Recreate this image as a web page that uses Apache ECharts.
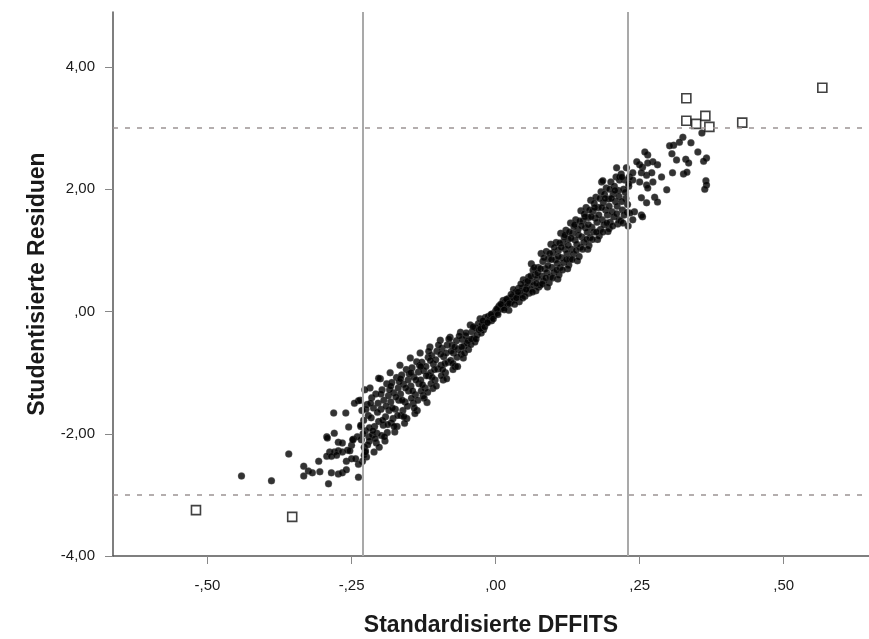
<!DOCTYPE html>
<html lang="de">
<head>
    <meta charset="UTF-8">
    <title>Studentisierte Residuen vs. DFFITS</title>
    <style>
        html,body{
            margin:0;
            padding:0;
            background:#fff;
        }
        #chartbox{
            width:869px;
            height:639px;
        }
    </style>
    <script src="https://cdn.jsdelivr.net/npm/echarts@6/dist/echarts.min.js"></script>
</head>
<body>
<div id="chartbox"></div>
<script>
    // untere Ausläufer (links unten)
    var tailLow = [
        [-0.441,-2.69],[-0.389,-2.77],[-0.359,-2.33],[-0.333,-2.53],[-0.333,-2.69],[-0.325,-2.61],
        [-0.318,-2.64],[-0.307,-2.45],[-0.290,-2.82],[-0.285,-2.64],[-0.273,-2.66],[-0.266,-2.64],
        [-0.259,-2.59],[-0.238,-2.71],[-0.238,-2.50],[-0.293,-2.05],[-0.281,-1.66],[-0.260,-1.66],
        [-0.255,-1.89],[-0.280,-1.99],[-0.273,-2.14],[-0.266,-2.15],[-0.247,-2.09],[-0.250,-2.19],
        [-0.240,-2.05],[-0.288,-2.30],[-0.280,-2.30],[-0.273,-2.28],[-0.266,-2.30],[-0.257,-2.27],
        [-0.253,-2.28],[-0.293,-2.37],[-0.285,-2.37],[-0.276,-2.35],[-0.259,-2.45],[-0.250,-2.41],
        [-0.243,-2.41],[-0.238,-1.46],[-0.245,-1.50],[-0.234,-1.86],[-0.227,-1.28],[-0.292,-2.07],
        [-0.248,-2.10],[-0.203,-1.09],[-0.226,-2.30],[-0.305,-2.62]
    ];

    // dichtes Band
    var band = [
        [-0.235,-1.45],[-0.232,-1.62],[-0.229,-1.78],[-0.226,-1.95],[-0.233,-2.10],[-0.228,-2.22],
        [-0.224,-2.38],[-0.221,-1.70],[-0.220,-2.05],[-0.231,-2.45],[-0.223,-1.52],[-0.226,-2.28],
        [-0.218,-1.25],[-0.215,-1.41],[-0.212,-1.58],[-0.216,-1.74],[-0.210,-1.88],[-0.214,-2.02],
        [-0.207,-2.15],[-0.211,-2.30],[-0.204,-1.50],[-0.203,-1.80],[-0.206,-1.99],[-0.219,-2.12],
        [-0.200,-1.10],[-0.197,-1.28],[-0.194,-1.45],[-0.199,-1.60],[-0.191,-1.72],[-0.195,-1.86],
        [-0.188,-1.98],[-0.192,-2.12],[-0.186,-1.38],[-0.185,-1.62],[-0.189,-1.18],[-0.198,-2.03],
        [-0.183,-1.00],[-0.180,-1.16],[-0.177,-1.33],[-0.182,-1.48],[-0.174,-1.60],[-0.178,-1.75],
        [-0.171,-1.88],[-0.175,-1.97],[-0.169,-1.25],[-0.168,-1.45],[-0.172,-1.08],[-0.181,-1.82],
        [-0.166,-0.88],[-0.163,-1.04],[-0.160,-1.19],[-0.165,-1.35],[-0.157,-1.48],[-0.161,-1.62],
        [-0.154,-1.75],[-0.158,-1.83],[-0.152,-1.12],[-0.151,-1.30],[-0.155,-0.95],[-0.164,-1.70],
        [-0.148,-0.76],[-0.145,-0.92],[-0.142,-1.07],[-0.147,-1.22],[-0.139,-1.36],[-0.143,-1.50],
        [-0.136,-1.62],[-0.140,-1.67],[-0.134,-0.99],[-0.133,-1.18],[-0.137,-0.82],[-0.146,-1.42],
        [-0.131,-0.68],[-0.128,-0.83],[-0.125,-0.97],[-0.130,-1.12],[-0.122,-1.25],[-0.126,-1.38],
        [-0.119,-1.49],[-0.117,-0.75],[-0.116,-1.05],[-0.121,-0.90],[-0.129,-1.30],
        [-0.114,-0.58],[-0.111,-0.72],[-0.108,-0.86],[-0.113,-1.00],[-0.105,-1.12],[-0.109,-1.26],
        [-0.102,-0.65],[-0.100,-0.94],[-0.104,-0.79],[-0.112,-1.18],
        [-0.096,-0.47],[-0.093,-0.60],[-0.090,-0.74],[-0.095,-0.88],[-0.087,-1.00],[-0.091,-1.12],
        [-0.084,-0.55],[-0.082,-0.83],[-0.086,-0.68],[-0.094,-1.05],
        [-0.079,-0.42],[-0.076,-0.55],[-0.073,-0.68],[-0.078,-0.80],[-0.070,-0.90],[-0.068,-0.48],
        [-0.065,-0.62],[-0.067,-0.75],[-0.074,-0.95],
        [-0.061,-0.34],[-0.058,-0.46],[-0.055,-0.57],[-0.060,-0.70],[-0.052,-0.40],[-0.050,-0.52],
        [-0.047,-0.62],[-0.056,-0.76],
        [-0.044,-0.22],[-0.041,-0.33],[-0.038,-0.44],[-0.043,-0.54],[-0.035,-0.27],[-0.032,-0.38],
        [-0.030,-0.20],[-0.036,-0.50],
        [-0.027,-0.12],[-0.024,-0.22],[-0.021,-0.30],[-0.018,-0.10],[-0.016,-0.19],[-0.013,-0.08],
        [-0.025,-0.35],[-0.011,-0.14],
        [-0.009,-0.10],[-0.006,-0.04],[-0.003,-0.07],[0.000,0.01],[0.003,-0.02],[0.005,0.06],
        [-0.007,-0.15],[0.006,0.09],
        [0.008,0.04],[0.011,0.10],[0.014,0.06],[0.017,0.15],[0.020,0.12],[0.022,0.21],
        [0.013,0.18],[0.023,0.02],
        [0.026,0.15],[0.029,0.24],[0.032,0.19],[0.035,0.31],[0.038,0.26],[0.040,0.38],
        [0.031,0.36],[0.041,0.16],
        [0.043,0.27],[0.046,0.38],[0.049,0.32],[0.052,0.47],[0.055,0.42],[0.057,0.56],
        [0.048,0.52],[0.058,0.30],[0.051,0.25],
        [0.060,0.36],[0.063,0.49],[0.066,0.43],[0.069,0.60],[0.072,0.55],[0.074,0.72],
        [0.065,0.68],[0.075,0.40],[0.062,0.78],[0.070,0.34],
        [0.077,0.43],[0.080,0.58],[0.083,0.50],[0.086,0.70],[0.089,0.64],[0.092,0.86],
        [0.082,0.82],[0.093,0.47],[0.079,0.95],[0.088,0.98],[0.090,0.40],
        [0.095,0.57],[0.098,0.72],[0.101,0.64],[0.104,0.85],[0.107,0.79],[0.109,1.00],
        [0.100,0.96],[0.110,0.60],[0.096,1.10],[0.105,1.13],[0.108,0.53],
        [0.112,0.72],[0.115,0.88],[0.118,0.80],[0.121,1.02],[0.124,0.95],[0.126,1.18],
        [0.117,1.13],[0.127,0.76],[0.113,1.28],[0.122,1.33],[0.125,0.70],[0.119,1.22],
        [0.129,0.86],[0.132,1.02],[0.135,0.94],[0.138,1.17],[0.141,1.10],[0.143,1.34],
        [0.134,1.28],[0.145,0.90],[0.130,1.45],[0.139,1.50],[0.142,0.83],[0.136,1.39],
        [0.147,1.05],[0.150,1.22],[0.153,1.13],[0.156,1.37],[0.159,1.30],[0.161,1.54],
        [0.152,1.48],[0.162,1.08],[0.148,1.65],[0.157,1.70],[0.160,1.02],[0.154,1.60],
        [0.164,1.21],[0.167,1.38],[0.170,1.30],[0.173,1.53],[0.176,1.46],[0.178,1.70],
        [0.169,1.64],[0.180,1.24],[0.165,1.82],[0.174,1.87],[0.177,1.18],[0.171,1.77],
        [0.182,1.34],[0.185,1.50],[0.188,1.42],[0.191,1.66],[0.194,1.58],[0.196,1.84],
        [0.187,1.78],[0.197,1.36],[0.183,1.96],[0.192,2.02],[0.195,1.31],[0.189,1.92],
        [0.199,1.46],[0.202,1.63],[0.205,1.55],[0.208,1.80],[0.211,1.72],[0.213,1.98],
        [0.204,1.92],[0.214,1.50],[0.200,2.12],[0.209,2.20],[0.212,1.43],[0.206,2.05],
        [0.217,1.48],[0.220,1.66],[0.223,1.58],[0.226,1.85],[0.229,1.75],[0.231,2.05],
        [0.222,2.00],[0.218,2.25],[0.227,2.35],[0.230,1.40],[0.224,2.15]
    ];

    // zusätzliche Punkte im dichten Band
    var bandFill = [
        [-0.234,-1.88],[-0.230,-2.00],[-0.225,-1.60],[-0.222,-2.18],[-0.228,-2.35],[-0.219,-1.90],
        [-0.217,-1.50],[-0.213,-1.95],[-0.209,-2.08],[-0.205,-1.65],[-0.202,-2.22],[-0.208,-1.35],
        [-0.199,-1.35],[-0.196,-1.78],[-0.193,-2.05],[-0.190,-1.55],[-0.187,-1.85],[-0.184,-1.28],
        [-0.182,-1.22],[-0.179,-1.58],[-0.176,-1.88],[-0.173,-1.40],[-0.170,-1.70],[-0.167,-1.15],
        [-0.165,-1.10],[-0.162,-1.45],[-0.159,-1.72],[-0.156,-1.25],[-0.153,-1.55],[-0.150,-1.02],
        [-0.147,-1.00],[-0.144,-1.30],[-0.141,-1.58],[-0.138,-1.12],[-0.135,-1.45],[-0.132,-0.88],
        [-0.130,-0.90],[-0.127,-1.20],[-0.124,-1.42],[-0.120,-1.05],[-0.118,-1.32],[-0.116,-0.65],
        [-0.113,-0.80],[-0.110,-1.08],[-0.106,-0.95],[-0.103,-1.22],[-0.099,-0.55],
        [-0.095,-0.70],[-0.092,-0.95],[-0.088,-0.85],[-0.085,-1.10],[-0.081,-0.45],
        [-0.077,-0.65],[-0.074,-0.85],[-0.071,-0.58],[-0.066,-0.90],[-0.063,-0.40],
        [-0.059,-0.58],[-0.054,-0.68],[-0.051,-0.35],[-0.048,-0.48],
        [-0.042,-0.45],[-0.039,-0.25],[-0.034,-0.45],[-0.029,-0.30],
        [-0.026,-0.28],[-0.022,-0.15],[-0.019,-0.25],[-0.014,-0.18],
        [-0.008,-0.05],[-0.004,-0.12],[0.002,0.04],[0.004,-0.05],
        [0.009,0.12],[0.015,0.03],[0.019,0.20],[0.024,0.13],
        [0.027,0.28],[0.033,0.12],[0.036,0.22],[0.039,0.32],
        [0.044,0.45],[0.047,0.22],[0.053,0.36],[0.056,0.50],
        [0.061,0.58],[0.064,0.32],[0.067,0.72],[0.071,0.46],[0.073,0.63],
        [0.078,0.70],[0.081,0.45],[0.084,0.88],[0.087,0.55],[0.091,0.75],[0.094,0.95],
        [0.097,0.85],[0.099,0.55],[0.102,1.05],[0.106,0.68],[0.109,0.90],[0.111,1.12],
        [0.114,1.05],[0.116,0.68],[0.120,1.25],[0.123,0.85],[0.126,1.08],[0.128,1.30],
        [0.131,1.20],[0.133,0.85],[0.137,1.42],[0.140,1.00],[0.144,1.25],[0.146,1.48],
        [0.149,1.40],[0.151,1.02],[0.155,1.55],[0.158,1.18],[0.161,1.42],[0.163,1.66],
        [0.166,1.55],[0.168,1.18],[0.172,1.70],[0.175,1.30],[0.179,1.58],[0.181,1.85],
        [0.184,1.70],[0.186,1.30],[0.190,1.85],[0.193,1.45],[0.197,1.72],[0.198,2.00],
        [0.201,1.85],[0.203,1.40],[0.207,1.98],[0.210,1.60],[0.214,1.88],[0.215,2.15],
        [0.219,1.80],[0.221,1.45],[0.225,1.95],[0.228,1.62],[0.232,2.20]
    ];

    // obere Ausläufer (rechts oben)
    var tailHigh = [
        [0.184,2.12],[0.215,2.20],[0.238,2.27],[0.250,2.12],[0.262,2.07],[0.262,1.78],
        [0.253,1.58],[0.238,1.50],[0.241,1.63],[0.233,1.61],
        [0.325,2.85],[0.319,2.77],[0.309,2.72],[0.302,2.71],[0.339,2.76],[0.351,2.61],
        [0.306,2.58],[0.314,2.48],[0.330,2.49],[0.335,2.43],[0.366,2.51],[0.361,2.46],
        [0.307,2.27],[0.326,2.25],[0.332,2.28],[0.365,2.14],[0.366,2.07],[0.363,2.00],
        [0.358,2.92],[0.297,1.99],[0.288,2.20],[0.281,2.40],[0.273,2.45],[0.264,2.56],
        [0.259,2.61],[0.264,2.43],[0.255,2.36],[0.250,2.40],[0.245,2.45],[0.253,2.27],
        [0.262,2.23],[0.271,2.27],[0.273,2.12],[0.264,2.02],[0.276,1.87],[0.281,1.79],
        [0.253,1.86],[0.255,1.55],[0.238,2.15],[0.210,2.35],[0.219,2.20],[0.186,2.14],
        [0.231,2.09]
    ];

    // Ausreißer (Quadrate)
    var outliers = [
        [-0.520,-3.25],[-0.353,-3.36],[0.331,3.49],[0.331,3.12],[0.348,3.07],
        [0.364,3.20],[0.371,3.02],[0.428,3.09],[0.567,3.66]
    ];

    var refX = [-0.228, 0.228];     // DFFITS-Grenzen
    var refY = [-3, 3];             // Residuen-Grenzen
    var xTicks = [-0.5, -0.25, 0, 0.25, 0.5];
    var yTicks = [-4, -2, 0, 2, 4];

    var axisColor = '#555',
        labelColor = '#1a1a1a',
        fontFamily = 'Liberation Sans, Arial, sans-serif';

    // SPSS-Format: Komma, ohne führende Null
    function fmt(v) {
        var s = Math.abs(v).toFixed(2).replace('.', ',');
        if (s.charAt(0) === '0') s = s.slice(1);
        return (v < 0 ? '-' : '') + s;
    }

    var dotStyle = {
        color: '#000',
        borderColor: 'rgba(110,110,110,0.6)',
        borderWidth: 0.6
    };

    var refLines = [];
    refX.forEach(function (v) {
        refLines.push({xAxis: v, lineStyle: {color: '#a9a9a9', width: 2, type: 'solid'}});
    });
    refY.forEach(function (v) {
        refLines.push({yAxis: v, lineStyle: {color: '#9c9494', width: 1.5, type: [5, 7]}});
    });

    var option = {
        backgroundColor: '#fff',
        animation: false,
        textStyle: {fontFamily: fontFamily},
        grid: {
            left: 113,
            right: 0,
            top: 12,
            bottom: 83,
            outerBoundsMode: 'none'
        },
        xAxis: {
            type: 'value',
            min: -0.664,
            max: 0.648,
            name: 'Standardisierte DFFITS',
            nameLocation: 'middle',
            nameGap: 58,
            nameTextStyle: {fontSize: 23, fontWeight: 'bold', color: '#1a1a1a', fontFamily: fontFamily},
            axisLine: {show: true, onZero: false, lineStyle: {color: axisColor, width: 1.5}},
            axisTick: {show: true, inside: false, length: 8, customValues: xTicks, lineStyle: {color: '#888'}},
            axisLabel: {customValues: xTicks, margin: 22, fontSize: 15, color: labelColor, formatter: fmt},
            splitLine: {show: false}
        },
        yAxis: {
            type: 'value',
            min: -4,
            max: 4.9,
            name: 'Studentisierte Residuen',
            nameLocation: 'middle',
            nameGap: 64,
            nameTextStyle: {fontSize: 23, fontWeight: 'bold', color: '#1a1a1a', fontFamily: fontFamily},
            axisLine: {show: true, onZero: false, lineStyle: {color: axisColor, width: 1.5}},
            axisTick: {show: true, inside: false, length: 8, customValues: yTicks, lineStyle: {color: '#888'}},
            axisLabel: {customValues: yTicks, margin: 18, fontSize: 15, color: labelColor, formatter: fmt},
            splitLine: {show: false}
        },
        series: [
            {
                name: 'band',
                type: 'scatter',
                symbol: 'circle',
                symbolSize: 7,
                itemStyle: dotStyle,
                data: band.concat(bandFill, tailLow, tailHigh),
                markLine: {
                    silent: true,
                    symbol: ['none', 'none'],
                    label: {show: false},
                    data: refLines
                }
            },
            {
                name: 'outliers',
                type: 'scatter',
                symbol: 'rect',
                symbolSize: 9,
                itemStyle: {color: '#fff', borderColor: '#111', borderWidth: 1.6},
                data: outliers
            }
        ]
    };

    var chart = echarts.init(document.getElementById('chartbox'));
    chart.setOption(option, true);
</script>
</body>
</html>
